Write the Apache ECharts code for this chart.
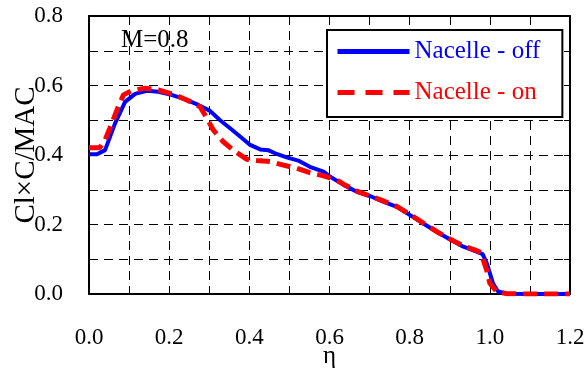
<!DOCTYPE html>
<html>
<head>
<meta charset="utf-8">
<script src="https://cdn.jsdelivr.net/npm/echarts@6/dist/echarts.min.js"></script>
<style>
  html, body { margin: 0; padding: 0; background: #fff; }
  #chart { width: 584px; height: 372px; }
</style>
</head>
<body>
<div id="chart"></div>
<script>
// Spanwise sectional lift distribution, M = 0.8
const etaOff = [0, 0.02, 0.04, 0.065, 0.09, 0.115, 0.144, 0.173, 0.206, 0.24, 0.273, 0.302, 0.327, 0.352, 0.377, 0.402, 0.427, 0.447, 0.468, 0.493, 0.522, 0.551, 0.585, 0.601, 0.635, 0.668, 0.701, 0.734, 0.768, 0.801, 0.834, 0.867, 0.901, 0.934, 0.967, 0.982, 0.992, 1.0, 1.008, 1.02, 1.04, 1.1, 1.2];
const clOff  = [0.402, 0.402, 0.414, 0.491, 0.553, 0.576, 0.585, 0.582, 0.573, 0.56, 0.544, 0.527, 0.5, 0.477, 0.453, 0.429, 0.416, 0.414, 0.403, 0.393, 0.384, 0.366, 0.352, 0.338, 0.314, 0.294, 0.282, 0.266, 0.251, 0.227, 0.203, 0.179, 0.157, 0.136, 0.122, 0.115, 0.09, 0.06, 0.03, 0.008, 0.001, 0, 0];

const etaOn = [0, 0.027, 0.04, 0.057, 0.073, 0.086, 0.106, 0.14, 0.173, 0.215, 0.248, 0.277, 0.293, 0.31, 0.335, 0.36, 0.393, 0.418, 0.452, 0.485, 0.518, 0.551, 0.585, 0.618, 0.635, 0.668, 0.701, 0.734, 0.768, 0.801, 0.834, 0.867, 0.901, 0.934, 0.967, 0.979, 0.983, 0.992, 1.0, 1.017, 1.042, 1.1, 1.2];
const clOn  = [0.421, 0.421, 0.443, 0.491, 0.539, 0.573, 0.585, 0.592, 0.587, 0.573, 0.556, 0.539, 0.508, 0.472, 0.438, 0.414, 0.388, 0.384, 0.381, 0.371, 0.362, 0.349, 0.34, 0.328, 0.316, 0.296, 0.282, 0.268, 0.252, 0.229, 0.204, 0.18, 0.158, 0.138, 0.125, 0.118, 0.1, 0.069, 0.031, 0.007, 0.001, 0, 0];

const seriesNames = ['Nacelle - off', 'Nacelle - on'];
const seriesColors = ['#0000ff', '#ff0000'];
const legendDash = ['solid', [17, 11]];
const machLabel = 'M=0.8';
const xName = 'η';
const yName = 'Cl×C/MAC';

const FONT = "'Liberation Serif', 'Times New Roman', serif";
const pairs = (xs, ys) => xs.map((x, i) => [x, ys[i]]);

// fresh style objects for each axis
const dashGrid = () => ({ show: true, lineStyle: { color: '#000', width: 1, type: [9, 6] } });
const tickIn = () => ({ show: true, inside: true, length: 6, lineStyle: { color: '#000', width: 1 } });
const minorIn = () => ({ show: true, splitNumber: 2, length: 6, lineStyle: { color: '#000', width: 1 } });
const axisLineBlack = () => ({ show: true, onZero: false, lineStyle: { color: '#000', width: 2 } });

const chart = echarts.init(document.getElementById('chart'), null, { renderer: 'canvas' });
chart.setOption({
  animation: false,
  backgroundColor: '#fff',
  title: {
    text: machLabel,
    left: 116, top: 23,
    textStyle: { fontFamily: FONT, fontSize: 25, fontWeight: 'normal', color: '#000' }
  },
  legend: {
    orient: 'vertical',
    left: 327, top: 30,
    padding: [9, 22, 12, 8],
    itemGap: 16,
    itemWidth: 72, itemHeight: 14,
    backgroundColor: '#fff',
    borderColor: '#000', borderWidth: 2,
    itemStyle: { opacity: 0 },
    textStyle: { fontFamily: FONT, fontSize: 25, lineHeight: 25 },
    data: seriesNames.map((n, i) => ({
      name: n,
      textStyle: { color: seriesColors[i] },
      lineStyle: { width: 5, type: legendDash[i], color: seriesColors[i] }
    }))
  },
  grid: { left: 89, right: 14, top: 16, bottom: 78, outerBoundsMode: 'none', containLabel: false },
  xAxis: [{
    type: 'value', min: 0, max: 1.2, interval: 0.2,
    name: xName, nameLocation: 'middle', nameGap: 50, nameMoveOverlap: false,
    nameTextStyle: { fontFamily: FONT, fontSize: 25, color: '#000' },
    axisLine: axisLineBlack(), axisTick: tickIn(), minorTick: minorIn(),
    splitLine: dashGrid(), minorSplitLine: dashGrid(),
    axisLabel: { margin: 32, fontFamily: FONT, fontSize: 23, color: '#000', formatter: v => v.toFixed(1) }
  }, {
    type: 'value', min: 0, max: 1.2, interval: 0.2, position: 'top',
    axisLine: axisLineBlack(), axisTick: tickIn(), minorTick: minorIn(),
    splitLine: { show: false }, axisLabel: { show: false }
  }],
  yAxis: [{
    type: 'value', min: 0, max: 0.8, interval: 0.2,
    name: yName, nameLocation: 'middle', nameGap: 48, nameMoveOverlap: false,
    nameTextStyle: { fontFamily: FONT, fontSize: 29, color: '#000' },
    axisLine: axisLineBlack(), axisTick: tickIn(), minorTick: minorIn(),
    splitLine: dashGrid(), minorSplitLine: dashGrid(),
    axisLabel: { margin: 26, fontFamily: FONT, fontSize: 23, color: '#000', formatter: v => v.toFixed(1) }
  }, {
    type: 'value', min: 0, max: 0.8, interval: 0.2, position: 'right',
    axisLine: axisLineBlack(), axisTick: tickIn(), minorTick: minorIn(),
    splitLine: { show: false }, axisLabel: { show: false }
  }],
  series: [{
    name: seriesNames[0], type: 'line', xAxisIndex: 0, yAxisIndex: 0,
    data: pairs(etaOff, clOff), symbol: 'none',
    color: seriesColors[0],
    lineStyle: { color: seriesColors[0], width: 4 }
  }, {
    name: seriesNames[1], type: 'line', xAxisIndex: 0, yAxisIndex: 0,
    data: pairs(etaOn, clOn), symbol: 'none',
    color: seriesColors[1],
    lineStyle: { color: seriesColors[1], width: 5, type: [14, 7] }
  }]
});
</script>
</body>
</html>
